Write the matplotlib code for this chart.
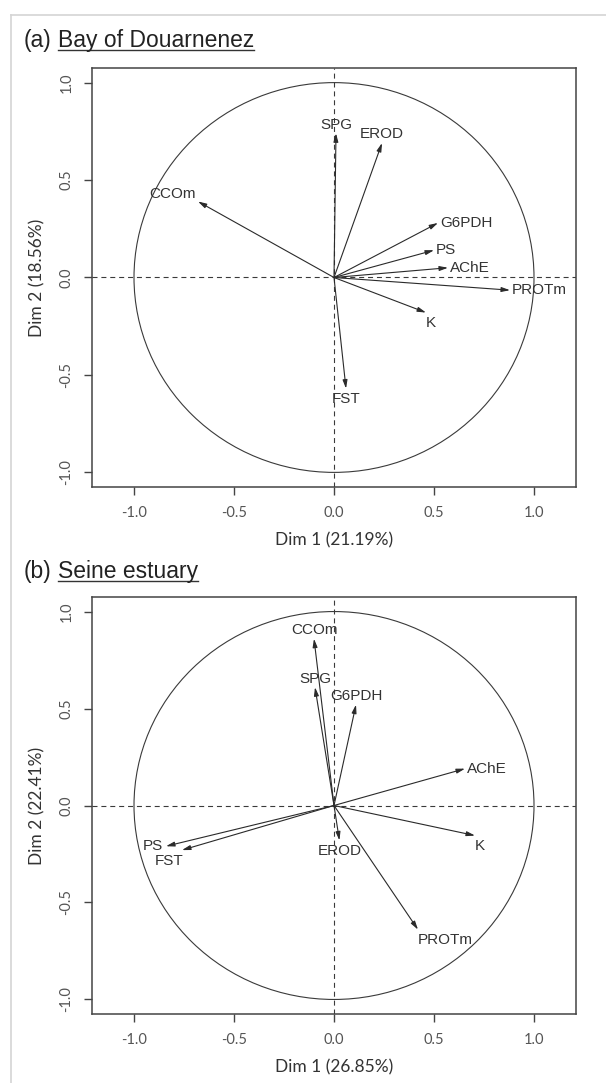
'''
Correlation circles (PCA variables) for two sites
'''
import matplotlib
matplotlib.use("Agg")
import matplotlib.pyplot as plt
from matplotlib.patches import Circle
from matplotlib.lines import Line2D

# (a) Bay of Douarnenez
bay_vars = ["SPG", "EROD", "CCOm", "G6PDH", "PS", "AChE", "PROTm", "K", "FST"]
bay_dim1 = [0.01, 0.24, -0.68, 0.52, 0.50, 0.57, 0.88, 0.46, 0.06]
bay_dim2 = [0.74, 0.69, 0.39, 0.28, 0.14, 0.05, -0.065, -0.18, -0.57]
bay_side = ["above", "above", "left-up", "right", "right", "right", "right", "below-right", "below"]
bay_xlabel = "Dim 1 (21.19%)"
bay_ylabel = "Dim 2 (18.56%)"

# (b) Seine estuary
seine_vars = ["CCOm", "SPG", "G6PDH", "AChE", "K", "PROTm", "EROD", "PS", "FST"]
seine_dim1 = [-0.10, -0.095, 0.11, 0.655, 0.705, 0.42, 0.027, -0.84, -0.76]
seine_dim2 = [0.86, 0.61, 0.52, 0.19, -0.155, -0.64, -0.18, -0.21, -0.23]
seine_side = ["above", "above", "above", "right", "below-right", "below-right", "below", "left", "below-left"]
seine_xlabel = "Dim 1 (26.85%)"
seine_ylabel = "Dim 2 (22.41%)"

ticks = [-1.0, -0.5, 0.0, 0.5, 1.0]
tick_labels = ["-1.0", "-0.5", "0.0", "0.5", "1.0"]

W, H, DPI = 606, 1083, 100
fig = plt.figure(figsize=(W / DPI, H / DPI), dpi=DPI)

# light frame around the figure (left and top)
fig.add_artist(Line2D([11 / W, 11 / W], [0, 1 - 15 / H], color="#d4d4d4", lw=1.2))
fig.add_artist(Line2D([11 / W, 1], [1 - 15 / H, 1 - 15 / H], color="#d4d4d4", lw=1.2))

SIDES = {
    "above": ((0, 1.2), "center", "bottom"),
    "below": ((0, -2.5), "center", "top"),
    "left": ((-2, 0), "right", "center"),
    "right": ((1.5, 0), "left", "center"),
    "left-up": ((-1.5, 0), "right", "bottom"),
    "below-right": ((0, -2.5), "left", "top"),
    "below-left": ((1, -2.5), "right", "top"),
}


def draw_panel(ax, names, d1, d2, sides, xlabel, ylabel):
    ax.set_xlim(-1.21, 1.21)
    ax.set_ylim(-1.075, 1.075)
    ax.add_patch(Circle((0, 0), 1.0, fill=False, ec="#3a3a3a", lw=0.8))
    ax.axhline(0, color="#3a3a3a", lw=0.8, ls=(0, (4.5, 3.5)))
    ax.axvline(0, color="#3a3a3a", lw=0.8, ls=(0, (4.5, 3.5)))
    for name, x, y, side in zip(names, d1, d2, sides):
        ax.annotate("", xy=(x, y), xytext=(0, 0),
                    arrowprops=dict(arrowstyle="-|>,head_length=0.5,head_width=0.14",
                                    color="#2a2a2a", lw=0.8, shrinkA=0, shrinkB=0))
        off, ha, va = SIDES[side]
        ax.annotate(name, xy=(x, y), xytext=off, textcoords="offset points",
                    ha=ha, va=va, fontsize=11, color="#333333",
                    family="Liberation Sans")
    ax.set_xticks(ticks)
    ax.set_xticklabels(tick_labels)
    ax.set_yticks(ticks)
    ax.set_yticklabels(tick_labels, rotation=90, va="center")
    ax.tick_params(length=5.5, width=1.0, color="#444444", pad=8,
                   labelsize=10.5, labelcolor="#555555")
    for lab in ax.get_xticklabels() + ax.get_yticklabels():
        lab.set_family("Lato")
    for sp in ax.spines.values():
        sp.set_color("#444444")
        sp.set_linewidth(1.1)
    ax.set_xlabel(xlabel, family="Lato", fontsize=12.5, color="#333333", labelpad=9)
    ax.set_ylabel(ylabel, family="Lato", fontsize=12.5, color="#333333", labelpad=10)


def underlined_title(prefix, name, x_px, base_px):
    size = 16.5
    y = 1 - base_px / H
    t1 = fig.text(x_px / W, y, prefix, fontsize=size, family="Liberation Sans",
                  color="#222222", va="baseline")
    r = fig.canvas.get_renderer()
    bb1 = t1.get_window_extent(r)
    gap = size * 0.278 * DPI / 72
    x2 = (bb1.x1 + gap) / W
    t2 = fig.text(x2, y, name, fontsize=size, family="Liberation Sans",
                  color="#222222", va="baseline")
    bb2 = t2.get_window_extent(r)
    uy = 1 - (base_px + 3) / H
    fig.add_artist(Line2D([bb2.x0 / W, bb2.x1 / W], [uy, uy], color="#333333", lw=1.0))


ax1 = fig.add_axes([92 / W, 1 - 487 / H, 484 / W, 419 / H])
draw_panel(ax1, bay_vars, bay_dim1, bay_dim2, bay_side, bay_xlabel, bay_ylabel)
ax2 = fig.add_axes([92 / W, 1 - 1014 / H, 484 / W, 417 / H])
draw_panel(ax2, seine_vars, seine_dim1, seine_dim2, seine_side, seine_xlabel, seine_ylabel)

underlined_title("(a)", "Bay of Douarnenez", 24, 47)
underlined_title("(b)", "Seine estuary", 24, 578)

fig.savefig("out.png", dpi=DPI)
plt.close(fig)
